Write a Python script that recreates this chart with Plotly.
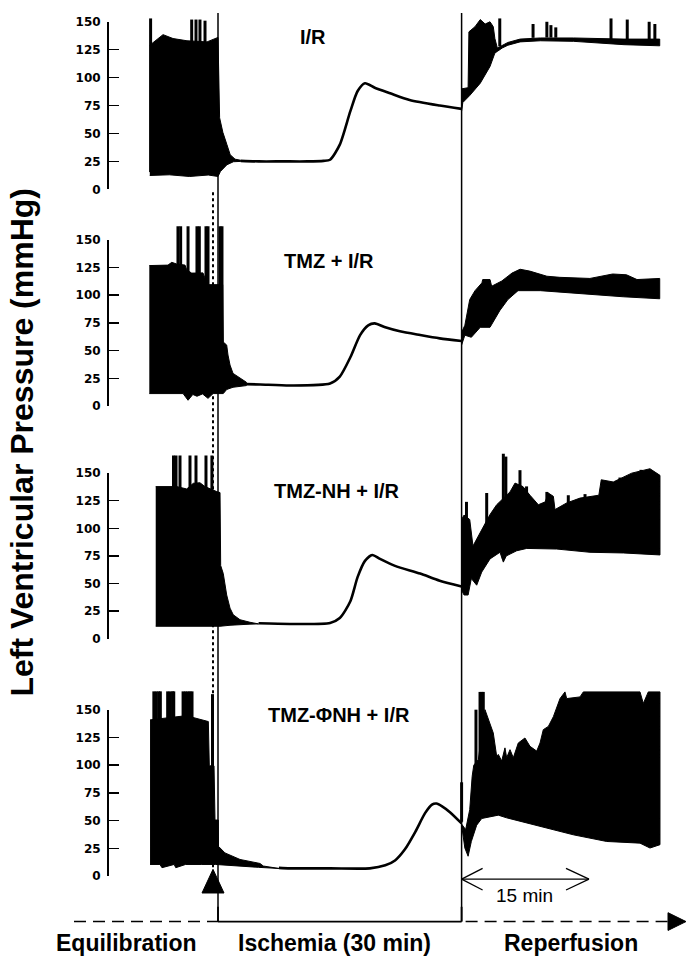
import numpy as np
import plotly.graph_objects as go

# ---------------- DATA (time in minutes, ischemia starts at t=0) ----------------
ISCHEMIA_START = 0.0
ISCHEMIA_END = 30.0
PANEL_TITLES = ["I/R", "TMZ + I/R", "TMZ-NH + I/R", "TMZ-\u03a6NH + I/R"]
TICK_VALUES = [0, 25, 50, 75, 100, 125, 150]
PHASE_LABELS = ["Equilibration", "Ischemia (30 min)", "Reperfusion"]

# Panel 1: I/R
P1_EQ_T_UP = [-8.4, -6.77, -5.54, -3.82, -1.35, 0.0, 0.2, 0.6, 1.1, 1.5, 2.1, 2.8]
P1_EQ_V_UP = [129, 138.5, 135, 133, 132, 136, 64, 51, 40, 31, 27, 26]
P1_EQ_T_LO = [-8.4, -6.0, -3.5, -1.2, 0.0, 0.3, 1.1, 1.9, 2.8]
P1_EQ_V_LO = [12.4, 13.0, 11.5, 12.8, 11.5, 16, 22, 24.7, 25]
P1_EQ_SPK_T = [-8.3, -3.24, -2.71, -2.22, -1.6]
P1_EQ_SPK_V = [153, 152, 152, 152, 151]
P1_IS_T = [2.8, 5, 8, 11, 13, 13.8, 15.0, 16.3, 17.2, 18.1, 19.3, 21.2, 23.6, 27.3, 30.0]
P1_IS_V = [25.5, 25, 25, 25, 25.5, 26.5, 40, 70, 88, 95, 91, 86, 80, 75, 72]
P1_RP_T_UP = [30.0, 30.05, 30.8, 30.9, 31.65, 32.3, 32.9, 33.5, 33.9, 34.1, 34.4, 35.0, 35.7, 37.2, 39.7, 43.8, 45.8, 50.0, 54.4]
P1_RP_V_UP = [72, 90, 91, 141, 145.6, 152, 148, 150, 145.6, 135, 126.5, 129, 131.5, 134.5, 135.5, 135.5, 135, 134.5, 134.5]
P1_RP_T_LO = [30.0, 30.15, 31.0, 32.3, 33.5, 34.1, 34.4, 35.0, 35.7, 37.2, 39.7, 43.8, 45.8, 50.0, 54.4]
P1_RP_V_LO = [70, 77.7, 84, 95, 110, 122, 123.5, 126.5, 129, 132, 133, 132.5, 131.5, 129.5, 128.5]
P1_RP_SPK_T = [34.7, 38.8, 40.5, 41.0, 41.6, 48.4, 50.4, 53.1, 53.8]
P1_RP_SPK_V = [153, 148, 150, 147, 145, 153, 152, 150, 148]

# Panel 2: TMZ + I/R
P2_EQ_T_UP = [-8.46, -6.16, -5.7, -5.09, -4.06, -3.85, -3.24, -1.85, -1.3, 0.58, 0.65, 1.07, 1.23, 1.48, 1.85, 2.71, 3.5]
P2_EQ_V_UP = [126.6, 127, 129.5, 128, 127, 122.7, 119.8, 120, 109.4, 109.4, 57.7, 55, 46, 37, 29.5, 25, 21.5]
P2_EQ_T_LO = [-8.46, -4.3, -3.69, -3.1, -2.59, -1.9, -1.23, -0.6, 0.65, 1.07, 1.85, 2.71, 3.5]
P2_EQ_V_LO = [11.3, 11.3, 5.3, 10.5, 8.9, 11, 7, 11.3, 11.3, 15, 17, 17.7, 18.5]
P2_EQ_SPK_T = [-4.93, -4.6, -3.69, -2.59, -2.3, -1.48, -1.23, 0.25, 0.49]
P2_EQ_SPK_V = [162, 162, 162, 162, 162, 162, 162, 162, 162]
P2_IS_T = [3.5, 5.2, 8.9, 13.8, 15.0, 16.3, 17.5, 18.5, 19.3, 20.6, 22.4, 24.9, 27.3, 30.0]
P2_IS_V = [19.8, 19.5, 18.6, 20.4, 26.6, 44, 64, 72.8, 74.5, 71, 67.4, 64, 61, 58.6]
P2_RP_T_UP = [30.0, 30.4, 31.0, 31.65, 32.5, 32.6, 33.5, 33.7, 34.95, 36.2, 37.2, 38.4, 40.5, 42.1, 45.8, 48.6, 50.3, 51.6, 54.4]
P2_RP_V_UP = [66.5, 72.8, 96, 104, 111, 114, 114, 108, 112.7, 119.8, 123.3, 121.6, 117, 116, 115, 119, 118.3, 114, 115]
P2_RP_T_LO = [30.0, 30.4, 31.2, 32.3, 33.5, 34.7, 35.7, 36.95, 39.7, 42.9, 45.8, 49.9, 54.4]
P2_RP_V_LO = [55, 63.9, 62, 71, 71, 86, 96, 104, 104, 102, 100.6, 98.5, 96.7]
P2_RP_SPK_T = []
P2_RP_SPK_V = []

# Panel 3: TMZ-NH + I/R
P3_EQ_T_UP = [-7.67, -5.09, -3.85, -3.04, -2.22, -1.6, -0.16, 0.25, 0.33, 0.65, 1.07, 1.48, 1.88, 2.71, 3.94, 5.0]
P3_EQ_V_UP = [137.8, 137.8, 135.7, 140.8, 141.3, 137.8, 133.3, 132.4, 66.3, 59, 39.6, 27.7, 21.7, 17.2, 14.9, 14.0]
P3_EQ_T_LO = [-7.67, 0.25, 1.48, 2.71, 3.94, 5.0]
P3_EQ_V_LO = [11.3, 11.3, 12.2, 12.8, 13.2, 13.4]
P3_EQ_SPK_T = [-5.48, -5.17, -4.68, -3.45, -2.71, -1.48, -0.75]
P3_EQ_SPK_V = [166, 166, 166, 166, 166, 166, 166]
P3_IS_T = [5.0, 8.9, 13.8, 15.0, 16.3, 17.2, 18.1, 19.0, 19.95, 21.8, 24.9, 27.3, 30.0]
P3_IS_V = [14.0, 13.4, 14.3, 18.75, 34, 56, 70.5, 75.9, 72.3, 66, 59, 52.5, 47.3]
P3_RP_T_UP = [30.0, 30.3, 31.0, 31.4, 32.06, 32.67, 33.5, 34.32, 34.94, 35.96, 36.58, 37.56, 38.42, 39.45, 40.3, 40.68, 41.3, 41.5, 42.94, 44.58, 46.9, 47.2, 48.68, 50.95, 53.2, 54.43]
P3_RP_V_UP = [108, 112, 108, 84, 93, 101, 112.5, 121.4, 126, 133, 141, 137.8, 130, 121.4, 124, 132, 129, 117, 123, 127.4, 130, 144, 142, 150, 154, 148]
P3_RP_T_LO = [30.0, 30.3, 30.8, 31.2, 31.86, 32.48, 33.5, 34.73, 35.14, 35.5, 36.79, 38.02, 41.71, 45.81, 49.92, 54.43]
P3_RP_V_LO = [44, 39.6, 39.6, 54.5, 48.5, 60.4, 72.3, 78.3, 69.4, 75, 79.7, 81.8, 81.25, 78.3, 77.7, 75.9]
P3_RP_SPK_T = [30.6, 33.09, 35.14, 35.45, 37.19, 38.0, 40.5, 43.14, 45.2, 49.5, 52.1]
P3_RP_SPK_V = [124, 132, 167.6, 165, 152.7, 138, 133, 130, 131, 146, 153]

# Panel 4: TMZ-PhiNH + I/R
P4_EQ_T_UP = [-8.37, -4.27, -3.45, -1.19, -1.07, -0.49, -0.37, 0.04, 0.06, 0.86, 2.71, 5.17, 5.58, 7.5]
P4_EQ_V_UP = [140.8, 144.3, 143.7, 139.3, 99.4, 99.4, 50.6, 50.6, 26.9, 21, 15.1, 11.5, 9.2, 7.5]
P4_EQ_T_LO = [-8.37, -7.15, -6.9, -5.4, -5.2, -4.0, -2.0, -0.3, 2.71, 5.0, 7.5]
P4_EQ_V_LO = [10.6, 10.6, 7.7, 10.6, 7.7, 10.6, 10.6, 10.6, 9.2, 8, 7.0]
P4_EQ_SPK_T = [-7.9, -7.6, -7.3, -7.1, -6.2, -5.9, -5.6, -5.45, -4.3, -4.0, -3.7, -3.45, -3.2, -0.68]
P4_EQ_SPK_V = [166.5, 166.5, 166.5, 166.5, 166.5, 166.5, 166.5, 166.5, 166.5, 166.5, 166.5, 166.5, 166.5, 164]
P4_IS_T = [7.5, 8.87, 13.8, 18.7, 20.6, 21.8, 23.0, 24.3, 25.5, 26.35, 26.9, 27.6, 28.6, 30.0]
P4_IS_V = [7.5, 7.1, 7.1, 7.1, 9.8, 14.2, 24, 40, 56.8, 64.5, 65.5, 63, 57.5, 47.6]
P4_RP_T_UP = [30.0, 30.5, 31.0, 31.3, 31.5, 32.06, 32.88, 33.5, 33.9, 34.32, 34.52, 34.94, 35.34, 35.55, 35.96, 36.37, 36.98, 37.8, 38.42, 39.25, 39.66, 40.06, 40.68, 41.3, 42.12, 42.73, 42.94, 44.58, 44.99, 51.97, 52.38, 52.99, 54.43]
P4_RP_V_UP = [47, 42, 60, 90, 100, 105, 150, 138, 129, 108, 109.7, 103.8, 115.6, 106.7, 114, 106.7, 120, 124.5, 117, 112.7, 120, 132, 134.9, 143.7, 160, 166, 160, 161.5, 166, 166, 155.6, 166, 166]
P4_RP_T_LO = [30.0, 30.4, 30.8, 31.2, 31.86, 32.48, 34.52, 35.55, 39.66, 43.76, 47.87, 51.97, 53.2, 54.43]
P4_RP_V_LO = [46, 25.4, 18, 31.3, 46, 52, 55, 52.6, 44.6, 37.3, 31.3, 29.8, 25.4, 28.4]
P4_RP_SPK_T = [30.0, 31.77, 32.27, 32.5, 32.67]
P4_RP_SPK_V = [84.6, 150, 166, 166, 166]

PANELS = [
    dict(eq=(P1_EQ_T_UP, P1_EQ_V_UP, P1_EQ_T_LO, P1_EQ_V_LO), eqspk=(P1_EQ_SPK_T, P1_EQ_SPK_V),
         isc=(P1_IS_T, P1_IS_V), rp=(P1_RP_T_UP, P1_RP_V_UP, P1_RP_T_LO, P1_RP_V_LO), rpspk=(P1_RP_SPK_T, P1_RP_SPK_V)),
    dict(eq=(P2_EQ_T_UP, P2_EQ_V_UP, P2_EQ_T_LO, P2_EQ_V_LO), eqspk=(P2_EQ_SPK_T, P2_EQ_SPK_V),
         isc=(P2_IS_T, P2_IS_V), rp=(P2_RP_T_UP, P2_RP_V_UP, P2_RP_T_LO, P2_RP_V_LO), rpspk=(P2_RP_SPK_T, P2_RP_SPK_V)),
    dict(eq=(P3_EQ_T_UP, P3_EQ_V_UP, P3_EQ_T_LO, P3_EQ_V_LO), eqspk=(P3_EQ_SPK_T, P3_EQ_SPK_V),
         isc=(P3_IS_T, P3_IS_V), rp=(P3_RP_T_UP, P3_RP_V_UP, P3_RP_T_LO, P3_RP_V_LO), rpspk=(P3_RP_SPK_T, P3_RP_SPK_V)),
    dict(eq=(P4_EQ_T_UP, P4_EQ_V_UP, P4_EQ_T_LO, P4_EQ_V_LO), eqspk=(P4_EQ_SPK_T, P4_EQ_SPK_V),
         isc=(P4_IS_T, P4_IS_V), rp=(P4_RP_T_UP, P4_RP_V_UP, P4_RP_T_LO, P4_RP_V_LO), rpspk=(P4_RP_SPK_T, P4_RP_SPK_V)),
]

# ---------------- LAYOUT GEOMETRY (pixels) ----------------
W, H = 686, 967
X0_PX = 218.0          # pixel of t = 0
PX_PER_MIN = 8.12
AXIS_X_PX = 107
# pixel of value 0 and of value 150 for each panel
PANEL_P0 = [185, 405, 641, 882]
PANEL_P150 = [15, 236, 473, 713]
TITLE_POS = [(313, 30), (329, 258), (337, 491), (339, 718)]


def fx(px):
    return px / W


def fy(py):
    return 1 - py / H


def tx(px):
    return (px - X0_PX) / PX_PER_MIN


fig = go.Figure()
BLACK = "black"

for k, p in enumerate(PANELS, start=1):
    ya = f"y{k}"
    # beating envelopes
    for key_env, key_spk in (("eq", "eqspk"), ("rp", "rpspk")):
        tu, vu, tl, vl = p[key_env]
        fig.add_trace(go.Scatter(
            x=list(tu) + list(tl)[::-1], y=list(vu) + list(vl)[::-1],
            mode="lines", fill="toself", fillcolor=BLACK,
            line=dict(color=BLACK, width=1), yaxis=ya, hoverinfo="skip", showlegend=False))
        st, sv = p[key_spk]
        if st:
            base = np.interp(st, tl, vl) + 3
            xs, ys = [], []
            for t, b, v in zip(st, base, sv):
                xs += [t, t, None]
                ys += [b, v, None]
            fig.add_trace(go.Scatter(x=xs, y=ys, mode="lines",
                                     line=dict(color=BLACK, width=3), yaxis=ya,
                                     hoverinfo="skip", showlegend=False))
    # ischemia pressure line
    it, iv = p["isc"]
    fig.add_trace(go.Scatter(x=it, y=iv, mode="lines",
                             line=dict(color=BLACK, width=2.6, shape="spline", smoothing=0.7),
                             yaxis=ya, hoverinfo="skip", showlegend=False))
    # dummy trace for tick axis
    fig.add_trace(go.Scatter(x=[None], y=[None], yaxis=f"y{k+4}", showlegend=False, hoverinfo="skip"))

layout = dict(
    width=W, height=H, margin=dict(l=0, r=0, t=0, b=0),
    paper_bgcolor="white", plot_bgcolor="rgba(0,0,0,0)", showlegend=False,
    xaxis=dict(domain=[0, 1], range=[tx(0), tx(W)], visible=False, fixedrange=True),
)
for k in range(1, 5):
    p0, p150 = PANEL_P0[k - 1], PANEL_P150[k - 1]
    s = (p0 - p150) / 150.0
    layout[f"yaxis{k}"] = dict(domain=[0, 1], range=[(p0 - H) / s, p0 / s], visible=False,
                               fixedrange=True, anchor="x")
    layout[f"yaxis{k+4}"] = dict(
        domain=[fy(p0), fy(p150)], range=[0, 150], anchor="free", position=fx(AXIS_X_PX),
        showline=True, linecolor=BLACK, linewidth=1.5, ticks="inside", ticklen=10,
        tickwidth=1.5, tickcolor=BLACK, tickvals=TICK_VALUES, showgrid=False, zeroline=False,
        tickfont=dict(family="DejaVu Sans", size=12, color=BLACK, weight="bold"),
        ticklabelstandoff=4, fixedrange=True)
fig.update_layout(**layout)

shapes = []
# ischemia start / reperfusion vertical lines
for t in (ISCHEMIA_START, ISCHEMIA_END):
    shapes.append(dict(type="line", xref="x", yref="paper", x0=t, x1=t, y0=fy(6), y1=fy(928),
                       line=dict(color=BLACK, width=1.5)))
# dotted marker line
shapes.append(dict(type="line", xref="paper", yref="paper", x0=fx(213), x1=fx(213), y0=fy(188), y1=fy(878),
                   line=dict(color=BLACK, width=2, dash="dot")))
# upward triangle marker
shapes.append(dict(type="path", xref="paper", yref="paper",
                   path=f"M {fx(202)},{fy(899)} L {fx(224)},{fy(899)} L {fx(213)},{fy(875)} Z",
                   fillcolor=BLACK, line=dict(color=BLACK, width=1)))
# timeline
TL_Y = 928
shapes.append(dict(type="line", xref="paper", yref="paper", x0=fx(74), x1=fx(X0_PX), y0=fy(TL_Y), y1=fy(TL_Y),
                   line=dict(color=BLACK, width=1.5, dash="12px,7px")))
shapes.append(dict(type="line", xref="x", yref="paper", x0=ISCHEMIA_START, x1=ISCHEMIA_END, y0=fy(TL_Y), y1=fy(TL_Y),
                   line=dict(color=BLACK, width=1.8)))
for t in (ISCHEMIA_START, ISCHEMIA_END):
    shapes.append(dict(type="line", xref="x", yref="paper", x0=t, x1=t, y0=fy(TL_Y), y1=fy(913),
                       line=dict(color=BLACK, width=1.8)))
shapes.append(dict(type="line", xref="paper", yref="paper", x0=fx(X0_PX + 30 * PX_PER_MIN + 4), x1=fx(672),
                   y0=fy(TL_Y), y1=fy(TL_Y), line=dict(color=BLACK, width=1.5, dash="12px,7px")))
shapes.append(dict(type="path", xref="paper", yref="paper",
                   path=f"M {fx(668)},{fy(TL_Y-9)} L {fx(686)},{fy(TL_Y)} L {fx(668)},{fy(TL_Y+9)} Z",
                   fillcolor=BLACK, line=dict(color=BLACK, width=1)))
# 15 min arrow
AY = 885
ax0, ax1 = X0_PX + 30 * PX_PER_MIN, 589
shapes.append(dict(type="line", xref="paper", yref="paper", x0=fx(ax0), x1=fx(ax1), y0=fy(AY), y1=fy(AY),
                   line=dict(color=BLACK, width=1.3)))
for (xa, xb) in ((ax0, ax0 + 21), (ax1, ax1 - 23)):
    for dy in (-11, 11):
        shapes.append(dict(type="line", xref="paper", yref="paper", x0=fx(xa), x1=fx(xb),
                           y0=fy(AY), y1=fy(AY + dy), line=dict(color=BLACK, width=1.3)))
fig.update_layout(shapes=shapes)

ann = []
for (px, py), title in zip(TITLE_POS, PANEL_TITLES):
    ann.append(dict(x=fx(px), y=fy(py), xref="paper", yref="paper", text=f"<b>{title}</b>",
                    showarrow=False, xanchor="center", yanchor="middle",
                    font=dict(family="Liberation Sans", size=20, color=BLACK)))
for px, label in zip((126, 334, 571), PHASE_LABELS):
    ann.append(dict(x=fx(px), y=fy(950), xref="paper", yref="paper", text=f"<b>{label}</b>",
                    showarrow=False, xanchor="center", yanchor="middle",
                    font=dict(family="Liberation Sans", size=23, color=BLACK)))
ann.append(dict(x=fx(524), y=fy(902), xref="paper", yref="paper", text="15 min", showarrow=False,
                xanchor="center", yanchor="middle", font=dict(family="Liberation Sans", size=19, color=BLACK)))
ann.append(dict(x=fx(22), y=fy(442), xref="paper", yref="paper", text="<b>Left Ventricular Pressure (mmHg)</b>",
                showarrow=False, textangle=-90, xanchor="center", yanchor="middle",
                font=dict(family="Liberation Sans", size=32, color=BLACK)))
fig.update_layout(annotations=ann)

fig.write_html("out.html", config={"displayModeBar": False, "staticPlot": True},
               post_script="document.body.style.margin='0';document.body.style.padding='0';"
                           "document.body.style.overflow='hidden';")
